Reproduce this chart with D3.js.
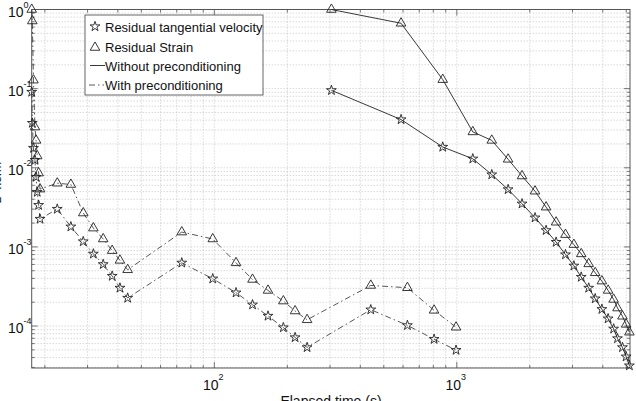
<!DOCTYPE html>
<html>
<head>
<meta charset="utf-8">
<script src="https://cdn.jsdelivr.net/npm/d3@7"></script>
<style>
  body { margin: 0; background: #fff; }
  svg text { font-family: "Liberation Sans", Arial, sans-serif; fill: #111; }
</style>
</head>
<body>
<div id="vis"></div>
<script>
var width = 636,
    height = 401;

// without preconditioning (solid)
var timeNo = [304, 589, 875, 1164, 1394, 1628, 1858, 2102, 2335, 2568, 2807,
              3040, 3260, 3499, 3722, 3966, 4208, 4434, 4600, 4822, 4994, 5150];
var strainNo = [1.0, 0.67, 0.130, 0.0284, 0.0222, 0.0128, 0.00788, 0.00506, 0.00318,
                0.00205, 0.00143, 0.00107, 0.000817, 0.000611, 0.000471, 0.000370,
                0.000282, 0.000217, 0.000169, 0.000133, 0.000105, 0.0000836];
var velNo = [0.0952, 0.0407, 0.0183, 0.0130, 0.0082, 0.00532, 0.00351, 0.00234,
             0.00162, 0.00115, 0.000800, 0.000577, 0.000416, 0.000303, 0.000222,
             0.000163, 0.000124, 0.0000922, 0.0000697, 0.0000537, 0.0000410, 0.0000316];

// with preconditioning (dash-dot)
var timePre = [17.65, 17.75, 17.95, 18.2, 18.4, 18.6, 18.85, 19.1, 22.5, 25.6, 28.8,
               31.7, 34.8, 37.9, 40.8, 43.9, 73.4, 98.5, 122.9, 143.7, 166.5, 192.6,
               215.3, 241.3, 441.8, 625.6, 806, 993];
var strainPre = [1.0, 0.716, 0.128, 0.0327, 0.0222, 0.0141, 0.00857, 0.00538, 0.00638, 0.00615,
                 0.00268, 0.00173, 0.00126, 0.000898, 0.000676, 0.000514, 0.00154, 0.00126,
                 0.000629, 0.000388, 0.000282, 0.000207, 0.000155, 0.000120, 0.000326,
                 0.000305, 0.000158, 0.0000966];
var velPre = [0.0906, 0.0367, 0.0177, 0.0125, 0.00762, 0.00493, 0.00337, 0.00225, 0.00301, 0.00180,
              0.00117, 0.000817, 0.000602, 0.000428, 0.000303, 0.000226, 0.000629, 0.000396,
              0.000264, 0.000186, 0.000134, 0.0000957, 0.0000717, 0.0000537, 0.000161,
              0.000102, 0.0000682, 0.0000496];

var legendLabels = ["Residual tangential velocity", "Residual Strain",
                    "Without preconditioning", "With preconditioning"];
var xTickExp = [2, 3];
var yTickExp = [0, -1, -2, -3, -4];

var pL = 31.7, pR = 630, pT = 9.5, pB = 368;

var svg = d3.select("#vis").append("svg")
    .attr("width", width)
    .attr("height", height);

var x = d3.scaleLog().domain([17.65, 5180]).range([pL, pR]);
var y = d3.scaleLog().domain([2.95e-5, 1]).range([pB, pT]);

// grid lines
var grid = svg.append("g").attr("class", "grid");
var xMinor = [], yMinor = [];
for (var e = 1; e <= 3; e++) {
  for (var m = 1; m <= 9; m++) {
    var v = m * Math.pow(10, e);
    if (v >= x.domain()[0] && v <= x.domain()[1]) xMinor.push(v);
  }
}
for (var e = -5; e <= 0; e++) {
  for (var m = 1; m <= 9; m++) {
    var v = m * Math.pow(10, e);
    if (v >= y.domain()[0] && v <= y.domain()[1] * 1.0001) yMinor.push(v);
  }
}

grid.selectAll("line.gx").data(xMinor).enter().append("line")
    .attr("x1", function(d) { return x(d); })
    .attr("x2", function(d) { return x(d); })
    .attr("y1", pT).attr("y2", pB)
    .attr("stroke", "#b8b8b8")
    .attr("stroke-width", 0.8)
    .attr("stroke-dasharray", "1,2");

grid.selectAll("line.gy").data(yMinor).enter().append("line")
    .attr("y1", function(d) { return y(d); })
    .attr("y2", function(d) { return y(d); })
    .attr("x1", pL).attr("x2", pR)
    .attr("stroke", "#b8b8b8")
    .attr("stroke-width", 0.8)
    .attr("stroke-dasharray", "1,2");

// tick marks (inward, on all four sides)
var ticks = svg.append("g").attr("stroke", "#555").attr("stroke-width", 0.8);
xMinor.forEach(function(d) {
  var major = Math.abs(Math.log10(d) - Math.round(Math.log10(d))) < 1e-9;
  var len = major ? 6 : 3;
  ticks.append("line").attr("x1", x(d)).attr("x2", x(d)).attr("y1", pB).attr("y2", pB - len);
  ticks.append("line").attr("x1", x(d)).attr("x2", x(d)).attr("y1", pT).attr("y2", pT + len);
});
yMinor.forEach(function(d) {
  var major = Math.abs(Math.log10(d) - Math.round(Math.log10(d))) < 1e-9;
  var len = major ? 6 : 3;
  ticks.append("line").attr("y1", y(d)).attr("y2", y(d)).attr("x1", pL).attr("x2", pL + len);
  ticks.append("line").attr("y1", y(d)).attr("y2", y(d)).attr("x1", pR).attr("x2", pR - len);
});

svg.append("rect")
    .attr("x", pL).attr("y", pT)
    .attr("width", pR - pL).attr("height", pB - pT)
    .attr("fill", "none")
    .attr("stroke", "#555")
    .attr("stroke-width", 1);

// tick labels
var xl = svg.append("g").selectAll("text").data(xTickExp).enter().append("text")
    .attr("x", function(d) { return x(Math.pow(10, d)) - 1; })
    .attr("y", 390)
    .attr("text-anchor", "middle")
    .attr("font-size", 14);
xl.append("tspan").text("10");
xl.append("tspan").attr("dy", -10).attr("font-size", 9).text(function(d) { return d; });

var yl = svg.append("g").selectAll("text").data(yTickExp).enter().append("text")
    .attr("x", 8)
    .attr("y", function(d) { return y(Math.pow(10, d)) + 7; })
    .attr("font-size", 14);
yl.append("tspan").text("10");
yl.append("tspan").attr("dy", -9).attr("font-size", 9).text(function(d) { return d === 0 ? "0" : "-" + Math.abs(d); });

// axis titles (partly cut off by the window, as in the source)
svg.append("text")
    .attr("x", 331).attr("y", 406)
    .attr("text-anchor", "middle")
    .attr("font-size", 14)
    .text("Elapsed time (s)");

svg.append("text")
    .attr("transform", "translate(1," + ((pT + pB) / 2 - 6) + ") rotate(-90)")
    .attr("text-anchor", "middle")
    .attr("font-size", 12)
    .text("L² norm");

// series
var star = d3.symbol().type(d3.symbolStar).size(30);
var tri = d3.symbol().type(d3.symbolTriangle).size(40);

var series = [
  { t: timeNo, v: strainNo, sym: tri, dash: null, col: "#222" },
  { t: timeNo, v: velNo, sym: star, dash: null, col: "#222" },
  { t: timePre, v: strainPre, sym: tri, dash: "6,3,1.5,3", col: "#444" },
  { t: timePre, v: velPre, sym: star, dash: "6,3,1.5,3", col: "#444" }
];

var line = d3.line()
    .x(function(d) { return x(d[0]); })
    .y(function(d) { return y(d[1]); });

series.forEach(function(s) {
  var pts = s.t.map(function(t, i) { return [t, s.v[i]]; });
  svg.append("path")
      .datum(pts)
      .attr("d", line)
      .attr("fill", "none")
      .attr("stroke", s.col)
      .attr("stroke-width", 0.9)
      .attr("stroke-dasharray", s.dash);
  svg.append("g").selectAll("path").data(pts).enter().append("path")
      .attr("d", s.sym)
      .attr("transform", function(d) { return "translate(" + x(d[0]) + "," + y(d[1]) + ")"; })
      .attr("fill", "none")
      .attr("stroke", "#222")
      .attr("stroke-width", 0.9);
});

// legend
var lg = svg.append("g");
lg.append("rect")
    .attr("x", 85).attr("y", 15).attr("width", 178).attr("height", 80)
    .attr("fill", "#fff").attr("stroke", "#555").attr("stroke-width", 0.9);
var rowY = [26.5, 46.5, 65.5, 85];
lg.selectAll("text").data(legendLabels).enter().append("text")
    .attr("x", 105)
    .attr("y", function(d, i) { return rowY[i] + 5; })
    .attr("font-size", 13)
    .text(function(d) { return d; });
lg.append("path").attr("d", star).attr("transform", "translate(95," + rowY[0] + ")")
    .attr("fill", "none").attr("stroke", "#222").attr("stroke-width", 0.9);
lg.append("path").attr("d", tri).attr("transform", "translate(95," + (rowY[1] + 1) + ")")
    .attr("fill", "none").attr("stroke", "#222").attr("stroke-width", 0.9);
lg.append("line").attr("x1", 90).attr("x2", 105).attr("y1", rowY[2]).attr("y2", rowY[2])
    .attr("stroke", "#222").attr("stroke-width", 0.9);
lg.append("line").attr("x1", 89).attr("x2", 104).attr("y1", rowY[3]).attr("y2", rowY[3])
    .attr("stroke", "#444").attr("stroke-width", 0.9).attr("stroke-dasharray", "6,3,1.5,3");
</script>
</body>
</html>
